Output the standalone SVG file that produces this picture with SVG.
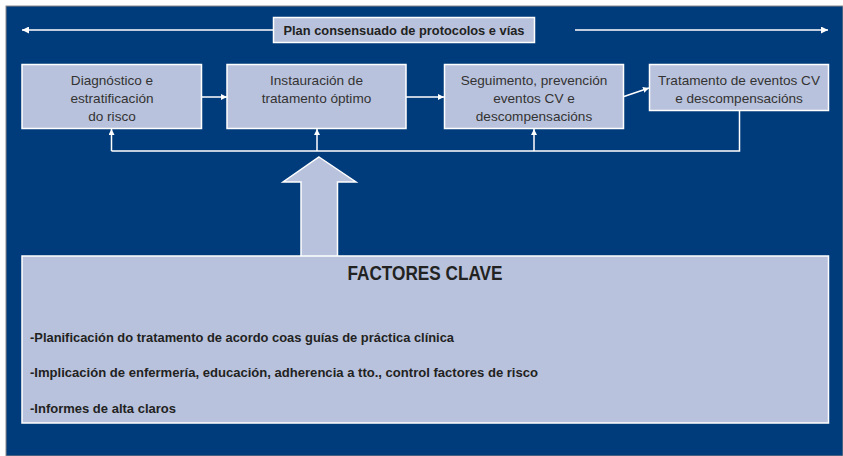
<svg xmlns="http://www.w3.org/2000/svg" width="843" height="456" viewBox="0 0 843 456">
<defs>
<style>
.box{fill:#b9c2dc;stroke:#ffffff;stroke-width:1.5}
.t{font-family:"Liberation Sans",Arial,sans-serif;font-size:13.6px;fill:#333333;text-anchor:middle}
.b{font-family:"Liberation Sans",Arial,sans-serif;font-weight:bold;font-size:12.5px;fill:#222222}
.ln{stroke:#ffffff;stroke-width:1.5;fill:none}
</style>
<marker id="ah" viewBox="0 0 10 10" refX="10" refY="5" markerWidth="6" markerHeight="6" orient="auto-start-reverse" markerUnits="userSpaceOnUse">
<path d="M0,0 L10,5 L0,10 z" fill="#ffffff"/>
</marker>
<marker id="ah2" viewBox="0 0 10 10" refX="10" refY="5" markerWidth="8" markerHeight="7" orient="auto-start-reverse" markerUnits="userSpaceOnUse">
<path d="M0,0 L10,5 L0,10 z" fill="#ffffff"/>
</marker>
</defs>
<rect x="0" y="0" width="843" height="456" fill="#ffffff"/>
<rect x="6" y="6" width="837" height="450" fill="#003b7b" stroke="#8a8a8a" stroke-width="1"/>

<g id="connectors">
<line class="ln" x1="273" y1="30" x2="22" y2="30" marker-end="url(#ah2)"/>
<line class="ln" x1="575" y1="30" x2="828" y2="30" marker-end="url(#ah2)"/>
<line class="ln" x1="202" y1="97" x2="227" y2="97" marker-end="url(#ah)"/>
<line class="ln" x1="406" y1="97" x2="444" y2="97" marker-end="url(#ah)"/>
<line class="ln" x1="624" y1="96.5" x2="649" y2="88" marker-end="url(#ah)"/>
<polyline class="ln" points="739.5,110 739.5,151 111.5,151"/>
<line class="ln" x1="111.5" y1="151" x2="111.5" y2="129" marker-end="url(#ah)"/>
<line class="ln" x1="317" y1="151" x2="317" y2="129" marker-end="url(#ah)"/>
<line class="ln" x1="534" y1="151" x2="534" y2="129" marker-end="url(#ah)"/>
</g>

<g id="plan">
<rect class="box" x="273.5" y="17.5" width="261" height="25"/>
<text class="b" x="404" y="35" text-anchor="middle" font-size="13px" textLength="241" lengthAdjust="spacingAndGlyphs">Plan consensuado de protocolos e vías</text>
</g>

<g id="n1">
<rect class="box" x="22" y="64.5" width="179.5" height="64"/>
<text class="t" x="112" y="84.5">Diagnóstico e</text>
<text class="t" x="112" y="102.5">estratificación</text>
<text class="t" x="112" y="120.5">do risco</text>
</g>
<g id="n2">
<rect class="box" x="227" y="64.5" width="179" height="64"/>
<text class="t" x="316.5" y="84.5">Instauración de</text>
<text class="t" x="316.5" y="102.5">tratamento óptimo</text>
</g>
<g id="n3">
<rect class="box" x="444.5" y="64.5" width="179" height="64"/>
<text class="t" x="534" y="84.5">Seguimento, prevención</text>
<text class="t" x="534" y="102.5">eventos CV e</text>
<text class="t" x="534" y="120.5">descompensacións</text>
</g>
<g id="n4">
<rect class="box" x="649.5" y="64.5" width="179" height="46"/>
<text class="t" x="739" y="84.5">Tratamento de eventos CV</text>
<text class="t" x="739" y="102.5">e descompensacións</text>
</g>

<g id="bigarrow">
<polygon points="319,157 356,182 337.5,182 337.5,257 301,257 301,182 283,182" fill="#b9c2dc" stroke="#ffffff" stroke-width="1.5"/>
</g>

<g id="factores">
<rect class="box" x="22" y="256" width="806.5" height="167"/>
<text x="425" y="280" text-anchor="middle" font-family="'Liberation Sans',Arial,sans-serif" font-weight="bold" font-size="20px" fill="#222222" textLength="155" lengthAdjust="spacingAndGlyphs">FACTORES CLAVE</text>
<text class="b" x="30" y="342" textLength="424" lengthAdjust="spacingAndGlyphs">-Planificación do tratamento de acordo coas guías de práctica clínica</text>
<text class="b" x="30" y="377" textLength="508" lengthAdjust="spacingAndGlyphs">-Implicación de enfermería, educación, adherencia a tto., control factores de risco</text>
<text class="b" x="30" y="413" textLength="146" lengthAdjust="spacingAndGlyphs">-Informes de alta claros</text>
</g>
</svg>
